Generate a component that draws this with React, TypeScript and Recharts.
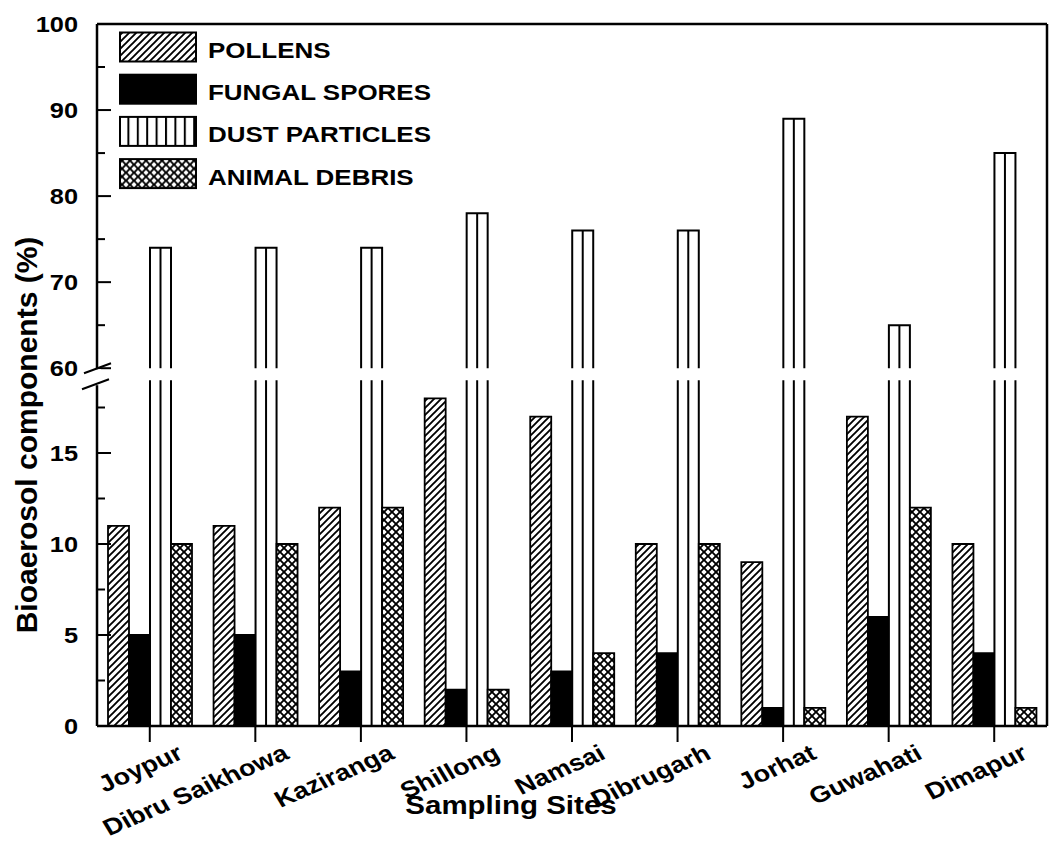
import React from 'react';
import { Bar, BarChart, Legend, XAxis, YAxis } from 'recharts';

const SITES = ['Joypur', 'Dibru Saikhowa', 'Kaziranga', 'Shillong', 'Namsai', 'Dibrugarh', 'Jorhat', 'Guwahati', 'Dimapur'];
const POLLENS = [11, 11, 12, 18, 17, 10, 9, 17, 10];
const FUNGAL_SPORES = [5, 5, 3, 2, 3, 4, 1, 6, 4];
const DUST_PARTICLES = [74, 74, 74, 78, 76, 76, 89, 65, 85];
const ANIMAL_DEBRIS = [10, 10, 12, 2, 4, 10, 1, 12, 1];

const SERIES_NAMES = ['POLLENS', 'FUNGAL SPORES', 'DUST PARTICLES', 'ANIMAL DEBRIS'];
const MAJOR_TICKS = [0, 5, 10, 15, 60, 70, 80, 90, 100];
const MINOR_TICKS = [2.5, 7.5, 12.5, 17.5, 65, 75, 85, 95];

// broken y axis: 0..19 and 60..100 are put on one linear axis
const LOW_MAX = 19;
const HIGH_MIN = 60;
const HIGH_MAX = 100;
const LOW_UNIT = 18.2;
const GAP = 12;
const AXIS_MAX = 702;
const HIGH_UNIT = (AXIS_MAX - LOW_MAX * LOW_UNIT - GAP) / (HIGH_MAX - HIGH_MIN);

const toAxis = (v: number) =>
  v <= LOW_MAX ? v * LOW_UNIT : LOW_MAX * LOW_UNIT + GAP + (v - HIGH_MIN) * HIGH_UNIT;
const fromAxis = (t: number) =>
  t <= LOW_MAX * LOW_UNIT + 0.5 ? t / LOW_UNIT : HIGH_MIN + (t - LOW_MAX * LOW_UNIT - GAP) / HIGH_UNIT;

const FONT = '"Liberation Sans", Arial, sans-serif';
const STRETCH = 'scale(1.18,1)';

const data = SITES.map((site, i) => ({
  site,
  pollens: toAxis(POLLENS[i]),
  fungal: toAxis(FUNGAL_SPORES[i]),
  dust: toAxis(DUST_PARTICLES[i]),
  animal: toAxis(ANIMAL_DEBRIS[i]),
}));

const Y_TICKS = [...MAJOR_TICKS, ...MINOR_TICKS].map(toAxis);
const LEGEND_FILLS = ['url(#pollens)', '#000', 'url(#dustLegend)', 'url(#animal)'];

function YTick(props: any) {
  const { x, y, payload } = props;
  const raw = Math.round(fromAxis(payload.value) * 10) / 10;
  const major = MAJOR_TICKS.includes(raw);
  return (
    <g>
      <line x1={x} x2={x + (major ? 14 : 8)} y1={y} y2={y} stroke="#000" strokeWidth={2} />
      {raw === HIGH_MIN && (
        <g>
          <rect x={x - 4} y={y + 1} width={8} height={GAP + 4} fill="#fff" />
          <line x1={x - 13} y1={y + 5} x2={x + 14} y2={y - 5} stroke="#000" strokeWidth={2} />
          <line x1={x - 15} y1={y + 21} x2={x + 12} y2={y + 11} stroke="#000" strokeWidth={2} />
        </g>
      )}
      {major && (
        <g transform={`translate(${x - 19},${y})`}>
          <text transform={STRETCH} textAnchor="end" dy="0.36em" fontFamily={FONT} fontWeight="bold" fontSize={21.5} fill="#000">
            {raw}
          </text>
        </g>
      )}
    </g>
  );
}

function RightBreak(props: any) {
  const { x, y } = props;
  return (
    <g>
      <rect x={x - 4} y={y + 1} width={8} height={GAP + 4} fill="#fff" />
      <line x1={x - 13} y1={y + 5} x2={x + 4} y2={y - 2} stroke="#000" strokeWidth={2} />
      <line x1={x - 15} y1={y + 21} x2={x + 4} y2={y + 13} stroke="#000" strokeWidth={2} />
    </g>
  );
}

function XTick(props: any) {
  const { x, y, payload } = props;
  return (
    <g transform={`translate(${x + 35},${y + 16})`}>
      <text transform={`${STRETCH} rotate(-27)`} textAnchor="end" fontFamily={FONT} fontWeight="bold" fontSize={23} fill="#000">
        {payload.value}
      </text>
    </g>
  );
}

function XTitle(props: any) {
  const { viewBox } = props;
  return (
    <g transform={`translate(${viewBox.x + 414},${viewBox.y + 88})`}>
      <text transform={STRETCH} textAnchor="middle" fontFamily={FONT} fontWeight="bold" fontSize={25} fill="#000">
        Sampling Sites
      </text>
    </g>
  );
}

function YTitle(props: any) {
  const { viewBox } = props;
  return (
    <text
      transform={`translate(${viewBox.x + 37},${viewBox.y + 411}) rotate(-90)`}
      textAnchor="middle"
      fontFamily={FONT}
      fontWeight="bold"
      fontSize={30}
      fill="#000"
    >
      Bioaerosol components (%)
    </text>
  );
}

function DustBar(props: any) {
  const { x, y, width, height, payload } = props;
  if (!height) return null;
  const bottom = y + height;
  const k = height / payload.dust;
  const gapTop = bottom - toAxis(HIGH_MIN) * k;
  const gapBottom = bottom - toAxis(LOW_MAX) * k;
  const segs = y < gapTop ? [[y, gapTop], [gapBottom, bottom]] : [[y, bottom]];
  const n = Math.max(1, Math.round(width / 10) - 1);
  const inner: number[] = [];
  for (let j = 1; j <= n; j++) inner.push(x + (width * j) / (n + 1));
  return (
    <g>
      {segs.map(([a, b], i) => (
        <g key={i}>
          <rect x={x} y={a} width={width} height={b - a} fill="#fff" />
          {inner.map((lx) => (
            <line key={lx} x1={lx} x2={lx} y1={a} y2={b} stroke="#000" strokeWidth={2} />
          ))}
          <path
            d={i === 0 ? `M${x},${b} V${a} H${x + width} V${b}` : `M${x},${b} V${a} M${x + width},${a} V${b}`}
            fill="none"
            stroke="#000"
            strokeWidth={2}
          />
        </g>
      ))}
    </g>
  );
}

function LegendBox() {
  return (
    <svg width={340} height={172}>
      {SERIES_NAMES.map((name, i) => (
        <g key={name} transform={`translate(0,${i * 42.2})`}>
          <rect x={2} y={2.5} width={76} height={29} fill={LEGEND_FILLS[i]} stroke="#000" strokeWidth={2} />
          <g transform="translate(90,28)">
            <text transform={STRETCH} fontFamily={FONT} fontWeight="bold" fontSize={22} fill="#000">
              {name}
            </text>
          </g>
        </g>
      ))}
    </svg>
  );
}

export default function App() {
  return (
    <div>
      <style>{'body{margin:0;background:#fff}'}</style>
      <BarChart
        width={1051}
        height={842}
        data={data}
        margin={{ top: 20, right: 0, bottom: 0, left: 0 }}
        barGap={0}
        barSize={21}
      >
        <defs>
          <pattern id="pollens" patternUnits="userSpaceOnUse" width={7} height={7}>
            <rect width={7} height={7} fill="#fff" />
            <path d="M-1,1 L1,-1 M0,7 L7,0 M6,8 L8,6" stroke="#000" strokeWidth={1.9} />
          </pattern>
          <pattern id="animal" patternUnits="userSpaceOnUse" width={8} height={8}>
            <rect width={8} height={8} fill="#fff" />
            <path d="M0,0 L8,8 M8,0 L0,8" stroke="#000" strokeWidth={1.9} />
          </pattern>
          <pattern id="dustLegend" patternUnits="userSpaceOnUse" width={9.4} height={10}>
            <rect width={9.4} height={10} fill="#fff" />
            <line x1={1} x2={1} y1={0} y2={10} stroke="#000" strokeWidth={2} />
          </pattern>
        </defs>
        <XAxis
          dataKey="site"
          height={116}
          interval={0}
          tickSize={16}
          tickMargin={0}
          axisLine={{ stroke: '#000', strokeWidth: 2.5 }}
          tickLine={{ stroke: '#000', strokeWidth: 2 }}
          tick={<XTick />}
          label={XTitle}
        />
        <XAxis
          xAxisId="top"
          orientation="top"
          dataKey="site"
          height={4}
          tick={false}
          tickLine={false}
          axisLine={{ stroke: '#000', strokeWidth: 2.5 }}
        />
        <YAxis
          type="number"
          domain={[0, AXIS_MAX]}
          ticks={Y_TICKS}
          interval={0}
          width={97}
          tickSize={0}
          tickMargin={0}
          tickLine={false}
          axisLine={{ stroke: '#000', strokeWidth: 2.5 }}
          tick={<YTick />}
          label={YTitle}
        />
        <YAxis
          yAxisId="right"
          orientation="right"
          type="number"
          domain={[0, AXIS_MAX]}
          ticks={[toAxis(HIGH_MIN)]}
          interval={0}
          width={4}
          tickSize={0}
          tickMargin={0}
          tickLine={false}
          axisLine={{ stroke: '#000', strokeWidth: 2.5 }}
          tick={<RightBreak />}
        />
        <Legend
          layout="vertical"
          align="center"
          verticalAlign="middle"
          content={<LegendBox />}
          wrapperStyle={{ left: 118, top: 30, width: 340, height: 172 }}
        />
        <Bar dataKey="pollens" name="POLLENS" fill="url(#pollens)" stroke="#000" strokeWidth={1.8} isAnimationActive={false} />
        <Bar dataKey="fungal" name="FUNGAL SPORES" fill="#000" stroke="#000" strokeWidth={1.8} isAnimationActive={false} />
        <Bar dataKey="dust" name="DUST PARTICLES" fill="#fff" shape={<DustBar />} isAnimationActive={false} />
        <Bar dataKey="animal" name="ANIMAL DEBRIS" fill="url(#animal)" stroke="#000" strokeWidth={1.8} isAnimationActive={false} />
      </BarChart>
    </div>
  );
}
